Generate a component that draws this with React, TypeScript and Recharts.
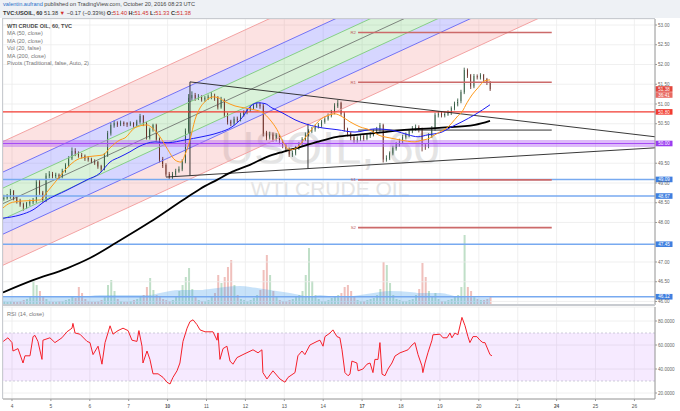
import React from 'react';
import {
  ComposedChart, Bar, Line, Area, XAxis, YAxis, CartesianGrid,
  ReferenceLine, ReferenceArea,
} from 'recharts';

const FONT = '"Liberation Sans", Arial, Helvetica, sans-serif';

// time axis: hours counted from Oct 4 00:00, trading days only
const dayLabels = ['4', '5', '6', '7', '10', '11', '12', '13', '14', '17', '18', '19', '20', '21', '24', '25', '26'];
const weekStarts = ['10', '17', '24'];
const dayTicks = dayLabels.map((_, i) => i * 24);
const X0 = -5.55;
const X1 = 396.7;

// 2-hour candles, first one at hour -5
const firstOpen = 48.6;
const closes = [
  48.62, 48.65, 48.78, 48.62, 48.55, 48.45, 48.38, 48.48, 48.52, 48.55,
  49.02, 48.75, 48.56, 49.18, 49.22, 49.18, 49.20, 49.16, 49.30, 49.45,
  49.62, 49.80, 49.75, 49.70, 49.68, 49.62, 49.60, 49.55, 49.52, 49.42,
  49.35, 49.70, 50.25, 50.45, 50.50, 50.48, 50.52, 50.50, 50.48, 50.50,
  50.45, 50.55, 50.68, 50.50, 50.15, 50.35, 50.45, 50.10, 49.60, 49.45,
  49.22, 49.15, 49.22, 49.30, 49.35, 49.55, 50.30, 51.15, 51.22, 51.15,
  51.18, 51.12, 51.15, 51.18, 51.20, 51.15, 50.92, 51.10, 50.72, 50.55,
  50.50, 50.62, 50.60, 50.72, 50.78, 50.85, 50.90, 50.95, 50.98, 50.95,
  50.25, 50.15, 50.22, 50.10, 50.20, 50.05, 49.95, 49.85, 49.72, 49.75,
  49.88, 49.98, 50.10, 50.22, 50.30, 50.35, 50.42, 50.45, 50.55, 50.62,
  50.70, 50.78, 50.95, 51.02, 50.75, 50.35, 50.25, 50.15, 50.08, 50.12,
  50.18, 50.12, 50.20, 50.22, 50.30, 50.35, 50.45, 49.60, 49.62, 49.75,
  49.88, 49.98, 50.05, 50.15, 50.22, 50.30, 50.38, 50.40, 50.35, 49.95,
  49.92, 50.20, 50.38, 50.72, 50.75, 50.72, 50.74, 50.78, 50.88, 51.00,
  51.08, 51.30, 51.85, 51.72, 51.45, 51.70, 51.68, 51.72, 51.62, 51.55,
  51.38,
];
const highs = [
  48.70, 48.72, 48.85, 48.82, 48.66, 48.60, 48.50, 48.52, 48.58, 48.62,
  49.10, 49.08, 48.80, 49.25, 49.30, 49.28, 49.26, 49.24, 49.36, 49.50,
  49.68, 49.90, 49.88, 49.80, 49.76, 49.72, 49.68, 49.64, 49.60, 49.56,
  49.46, 49.76, 50.32, 50.52, 50.58, 50.56, 50.58, 50.56, 50.54, 50.56,
  50.54, 50.60, 50.75, 50.72, 50.55, 50.40, 50.50, 50.50, 50.15, 49.66,
  49.50, 49.28, 49.28, 49.36, 49.42, 49.60, 50.38, 51.25, 51.32, 51.28,
  51.25, 51.22, 51.20, 51.24, 51.30, 51.26, 51.20, 51.18, 51.14, 50.78,
  50.60, 50.68, 50.68, 50.78, 50.84, 50.90, 50.96, 51.02, 51.05, 51.04,
  51.00, 50.32, 50.30, 50.28, 50.26, 50.24, 50.10, 50.00, 49.90, 49.82,
  49.94, 50.04, 50.16, 50.28, 50.36, 50.42, 50.48, 50.52, 50.60, 50.68,
  50.76, 50.85, 51.02, 51.10, 51.06, 50.80, 50.40, 50.30, 50.20, 50.18,
  50.24, 50.22, 50.26, 50.28, 50.36, 50.42, 50.52, 50.50, 49.70, 49.80,
  49.94, 50.04, 50.12, 50.22, 50.28, 50.36, 50.44, 50.48, 50.46, 50.40,
  50.00, 50.26, 50.44, 50.78, 50.82, 50.80, 50.80, 50.84, 50.94, 51.06,
  51.14, 51.36, 51.92, 51.90, 51.76, 51.76, 51.75, 51.78, 51.76, 51.66,
  51.58,
];
const lows = [
  48.55, 48.58, 48.60, 48.56, 48.48, 48.40, 48.30, 48.34, 48.42, 48.46,
  48.50, 48.70, 48.50, 48.52, 49.12, 49.12, 49.12, 49.10, 49.12, 49.26,
  49.40, 49.58, 49.68, 49.64, 49.62, 49.56, 49.54, 49.50, 49.46, 49.36,
  49.28, 49.32, 49.66, 50.20, 50.40, 50.42, 50.44, 50.44, 50.42, 50.44,
  50.40, 50.42, 50.50, 50.44, 50.10, 50.10, 50.30, 50.05, 49.52, 49.38,
  49.16, 49.10, 49.10, 49.18, 49.26, 49.30, 49.50, 50.25, 51.08, 51.08,
  51.10, 51.06, 51.06, 51.10, 51.12, 51.08, 50.86, 50.88, 50.66, 50.48,
  50.44, 50.46, 50.54, 50.56, 50.68, 50.74, 50.80, 50.86, 50.90, 50.88,
  50.18, 50.08, 50.10, 50.04, 50.05, 49.98, 49.88, 49.78, 49.66, 49.66,
  49.70, 49.84, 49.94, 50.06, 50.18, 50.26, 50.30, 50.38, 50.40, 50.50,
  50.58, 50.66, 50.74, 50.90, 50.70, 50.30, 50.18, 50.08, 50.02, 50.02,
  50.06, 50.06, 50.08, 50.14, 50.18, 50.26, 50.30, 49.52, 49.54, 49.58,
  49.70, 49.82, 49.92, 50.00, 50.10, 50.16, 50.26, 50.32, 50.28, 49.80,
  49.84, 49.88, 50.14, 50.32, 50.66, 50.66, 50.66, 50.70, 50.72, 50.84,
  50.94, 51.02, 51.25, 51.66, 51.38, 51.40, 51.62, 51.62, 51.56, 51.48,
  51.33,
];
// volume, hundreds of contracts
const volumes = [
  4, 3, 4, 3, 3, 4, 5, 6, 8, 25,
  20, 14, 8, 6, 4, 3, 3, 4, 4, 5,
  6, 8, 7, 18, 12, 6, 4, 3, 3, 4,
  5, 8, 20, 25, 14, 6, 4, 3, 3, 4,
  5, 6, 8, 10, 18, 27, 15, 10, 8, 6,
  5, 4, 5, 8, 14, 20, 28, 37, 16, 8,
  5, 4, 4, 5, 8, 12, 30, 22, 28, 38,
  45, 20, 10, 6, 5, 4, 5, 7, 10, 15,
  35, 50, 30, 14, 8, 5, 4, 4, 5, 6,
  8, 10, 14, 30, 57, 24, 10, 6, 4, 4,
  5, 7, 9, 10, 12, 18, 20, 14, 8, 5,
  4, 4, 5, 6, 7, 10, 16, 43, 40, 22,
  10, 6, 5, 4, 4, 5, 6, 10, 16, 42,
  28, 14, 8, 12, 6, 4, 4, 5, 6, 8,
  10, 18, 70, 18, 14, 8, 6, 5, 5, 6,
  8,
];
const volMaHours = [-5.55, 29.6, 41.9, 54.3, 85.1, 91.3, 103.6, 116, 122.1, 140.7, 146.8, 159.2, 171.5, 177.7, 183.8, 190, 202.3, 214.7, 227, 233.2, 245.5, 251.7, 264, 276.4, 294.9];
const volMaValues = [7.5, 8, 8, 10, 10, 12, 15, 15, 16, 19, 18, 15, 12, 10, 8, 10, 7.5, 10, 13, 14, 13, 12, 12, 8, 7];

// moving averages
const ma20Hours = [-5.55, -1.23, 4.94, 17.27, 21.6, 27.76, 33.9, 40.1, 46.3, 52.4, 56.1, 60.5, 66.6, 69.7, 75.9, 83.3, 86.4, 91.3, 96.2, 100.6, 104.3, 106.7, 109.8, 112.9, 116, 119.1, 124, 127.1, 131.4, 137.6, 143.7, 149.9, 154.8, 159.2, 163.5, 167.2, 171.5, 175.8, 180.8, 185.7, 190, 194.3, 199.3, 203.6, 208.5, 214.7, 220.9, 225.8, 233.2, 239.4, 248.6, 251.7, 257.9, 260.9, 264, 269, 271.4, 275.1, 277.6, 280.7, 283.8, 287.5, 291.8, 294.9];
const ma20Values = [48.37, 48.49, 48.54, 48.57, 48.77, 49.08, 49.38, 49.59, 49.66, 49.69, 49.71, 49.89, 50.09, 50.14, 50.40, 50.47, 50.40, 50.17, 49.84, 49.58, 49.53, 49.71, 50.09, 50.60, 50.90, 51.06, 51.18, 51.16, 51.06, 50.95, 50.90, 50.85, 50.78, 50.60, 50.35, 50.04, 49.84, 49.89, 50.14, 50.40, 50.60, 50.70, 50.75, 50.68, 50.55, 50.42, 50.34, 50.22, 50.14, 50.09, 50.04, 50.07, 50.14, 50.22, 50.29, 50.42, 50.52, 50.70, 50.80, 51.03, 51.23, 51.41, 51.59, 51.61];
const ma50Hours = [-5.55, 4.94, 12.95, 20.36, 33.93, 46.27, 54.29, 60.46, 66.63, 72.8, 77.73, 88.22, 96.24, 106.7, 117.2, 127.1, 135.7, 141.9, 146.8, 151.8, 156.1, 160.4, 166.6, 174.6, 188.2, 200.5, 211.6, 223.9, 236.3, 244.3, 250.5, 256.6, 265.3, 270.2, 277.6, 285.6, 294.9];
const ma50Values = [48.11, 48.19, 48.32, 48.54, 48.82, 49.08, 49.25, 49.53, 49.66, 49.79, 49.91, 50.04, 50.02, 50.09, 50.17, 50.27, 50.42, 50.65, 50.93, 51.03, 51.01, 50.90, 50.78, 50.60, 50.42, 50.35, 50.29, 50.37, 50.32, 50.22, 50.17, 50.22, 50.29, 50.40, 50.55, 50.73, 50.98];
const ma200Hours = [-5.55, 12.95, 33.93, 48.12, 64.77, 85.13, 105.5, 116, 126.5, 135.7, 146.8, 157.3, 167.2, 177.7, 188.2, 200.5, 212.8, 225.2, 244.3, 265.3, 285.6, 294.9];
const ma200Values = [46.23, 46.54, 46.84, 47.10, 47.50, 48.01, 48.57, 48.85, 49.08, 49.28, 49.46, 49.66, 49.79, 49.91, 50.04, 50.17, 50.22, 50.27, 50.35, 50.40, 50.47, 50.57];

// RSI (14)
const rsiHours = [-5.4, -2.5, 0, 0.6, 3.7, 6.8, 8, 11.1, 13, 14.2, 16, 18.5, 19.1, 23.4, 26.5, 30.8, 33.9, 37, 37.6, 38.9, 41.9, 46.3, 48.1, 50, 53.1, 55.5, 57.4, 59.2, 60.5, 62.3, 65.4, 68.5, 71.6, 74, 77.1, 78.3, 80.2, 80.8, 83.3, 85.1, 87, 90.1, 93.2, 95.6, 97.5, 99.3, 101.8, 103.6, 105.5, 108, 109.8, 111.7, 114.1, 116, 119.1, 124, 126.5, 127.1, 128.3, 130.2, 132.6, 134.5, 136.3, 138.8, 142.5, 148.7, 151.8, 154.2, 154.8, 157.3, 161, 165.3, 168.4, 170.3, 174.6, 176.4, 178.9, 180.7, 183.8, 188.2, 190, 191.9, 193.1, 196.2, 198, 200.5, 202.3, 203.6, 205.4, 207.3, 208.5, 209.7, 212.8, 213.5, 216.5, 219, 220.9, 222.7, 223.9, 225.8, 227, 228.3, 230.1, 232, 234.4, 236.3, 239.4, 242.4, 244.3, 246.8, 248.6, 250.5, 252.9, 253.5, 254.8, 256.6, 259.1, 259.7, 264, 265.9, 268.4, 270.2, 271.4, 273.3, 275.1, 277.6, 279.5, 281.3, 282.5, 284.4, 286.8, 288.7, 290.5, 291.8, 294.9, 296.1];
const rsiValues = [63, 66, 62, 55, 57, 45, 51, 51, 67, 68, 63, 48, 64, 66, 62, 66, 71, 74, 78, 70, 69, 63, 62, 52, 59, 44, 62, 70, 76, 69, 72, 74, 72, 64, 63, 72, 59, 45, 55, 48, 36, 36, 33, 29, 27.5, 33, 38.5, 45, 63, 74, 79.5, 81, 77, 72.6, 71, 71, 64, 70, 48, 57, 59, 46.6, 44, 49.5, 52, 56, 53.5, 56, 37, 31.7, 38.5, 31.7, 29, 33, 37, 51, 55, 52, 60, 63, 64, 59, 67, 70, 72.6, 67, 66, 56, 37, 34.4, 35.7, 46.6, 45, 38.5, 40, 44, 45, 37, 48, 48, 62, 35.7, 34.4, 40, 45, 50.8, 53.5, 55, 56, 60, 62, 52, 42.6, 37, 45, 53.5, 64, 68.5, 69, 66, 66, 70, 66, 70, 68.5, 83, 76, 67, 62, 67, 67, 64, 62, 62, 52, 51];

// drawings: rising channel (price of its top line at both chart edges, levels below it)
const chanHours = [X0, X1];
const chanTop = [50.05, 57.66];
const chanLevels = [0, 0.772, 1.178, 1.571, 1.964, 2.345, 3.132];
const chanLineColors = ['#f3a3a3', '#7272f5', '#86cf86', '#555555', '#86cf86', '#7272f5', '#f3a3a3'];
const chanBandColors = ['rgba(242,110,110,0.2)', 'rgba(90,90,255,0.25)', 'rgba(70,190,70,0.2)', 'rgba(70,190,70,0.2)', 'rgba(90,90,255,0.25)', 'rgba(242,110,110,0.2)'];

// triangle: upper and lower trend lines plus two verticals
const trendUpper = [{ h: 109.8, p: 51.56 }, { h: 396.7, p: 50.17 }];
const trendLower = [{ h: 95, p: 49.15 }, { h: 396.7, p: 49.89 }];
const verticals = [
  [{ h: 109.8, p: 51.56 }, { h: 109.8, p: 49.19 }],
  [{ h: 182.6, p: 50.5 }, { h: 182.6, p: 49.37 }],
];

// horizontal levels
const redLevel = 50.8;
const purpleLevel = 50.0;
const blueLevels = [49.09, 48.67, 47.45, 46.12];

// weekly pivots
const pivotHours = [213.5, 333];
const pivotNames = ['R2', 'R1', 'P', 'S1', 'S2'];
const pivotPrices = [52.81, 51.55, 50.34, 49.08, 47.87];

const lastPrice = 51.38;
const countdown = '36:41';

const PRICE_DOMAIN = [45.911, 53.152];
// 47.50 and 50.00 sit under the level tags
const priceTicks = [46, 46.5, 47, 48, 48.5, 49, 49.5, 50.5, 51, 51.5, 52, 52.5, 53];
const VOL_DOMAIN = [0, 286];

const UP_FILL = '#5b9a73';
const UP_EDGE = '#1f4a30';
const DN_FILL = '#c65545';
const DN_EDGE = '#5a1a12';

const candleData = closes.map((c, i) => {
  const open = i === 0 ? firstOpen : closes[i - 1];
  return {
    h: -5 + 2 * i,
    open,
    close: c,
    high: highs[i],
    low: lows[i],
    range: [lows[i], highs[i]],
    volRange: [0, volumes[i]],
  };
});

const Candle = (props: any) => {
  const { x, y, width, height, payload } = props;
  if (!payload || !isFinite(y) || !isFinite(height)) return null;
  const { open, close, high, low } = payload;
  const k = height / (high - low || 1);
  const cx = x + width / 2;
  const yO = y + (high - open) * k;
  const yC = y + (high - close) * k;
  const up = close >= open;
  const top = Math.min(yO, yC);
  const bh = Math.max(Math.abs(yC - yO), 0.8);
  return (
    <g>
      <line x1={cx} x2={cx} y1={y} y2={y + height} stroke={up ? UP_EDGE : DN_EDGE} strokeWidth={0.8} />
      <rect x={x} y={top} width={width} height={bh} fill={up ? UP_FILL : DN_FILL} stroke={up ? UP_EDGE : DN_EDGE} strokeWidth={0.5} />
    </g>
  );
};

const VolBar = (props: any) => {
  const { x, y, width, height, payload } = props;
  if (!payload || !isFinite(y) || !isFinite(height)) return null;
  const up = payload.close >= payload.open;
  return <rect x={x} y={Math.min(y, y + height)} width={width} height={Math.abs(height)} fill={up ? 'rgba(90,170,110,0.38)' : 'rgba(215,90,80,0.38)'} />;
};

const Tag = ({ viewBox, text, bg, dy = 0, color = '#fff' }: any) => {
  if (!viewBox) return null;
  const x = viewBox.x + viewBox.width + 0.5;
  const y = viewBox.y + dy;
  return (
    <g>
      <rect x={x} y={y - 2.8} width={17} height={5.6} fill={bg} />
      <text x={x + 8.5} y={y + 1.7} textAnchor="middle" fontSize={4.6} fill={color} fontFamily={FONT}>{text}</text>
    </g>
  );
};

const PivotLabel = ({ viewBox, text }: any) => {
  if (!viewBox) return null;
  return (
    <text x={viewBox.x - 2} y={viewBox.y + 1.6} textAnchor="end" fontSize={4.4} fill="#c06060" fontFamily={FONT}>{text}</text>
  );
};

const TimeTick = ({ x, y, payload }: any) => {
  const label = dayLabels[Math.round(payload.value / 24)];
  const bold = weekStarts.includes(label);
  return (
    <text x={x} y={y + 5} textAnchor="middle" fontSize={4.8} fill="#555" fontWeight={bold ? 'bold' : 'normal'} fontFamily={FONT}>{label}</text>
  );
};

const series = (hours: number[], values: number[]) => hours.map((h, i) => ({ h, v: values[i] }));

const legendRows = ['MA (50, close)', 'MA (20, close)', 'Vol (20, false)', 'MA (200, close)', 'Pivots (Traditional, false, Auto, 2)'];

const textStyle: React.CSSProperties = { position: 'absolute', whiteSpace: 'nowrap', fontFamily: FONT, lineHeight: 1 };
const MAIN_MARGIN = { top: 19, right: 0, left: 3, bottom: 1 };

export default function App() {
  const chanBand = (i: number) => [
    { h: chanHours[0], v: [chanTop[0] - chanLevels[i + 1], chanTop[0] - chanLevels[i]] },
    { h: chanHours[1], v: [chanTop[1] - chanLevels[i + 1], chanTop[1] - chanLevels[i]] },
  ];
  return (
    <div style={{ position: 'absolute', left: 0, top: 0, width: 680, height: 411, background: '#fff', overflow: 'hidden', fontFamily: FONT }}>
      {/* header */}
      <div style={{ position: 'absolute', left: 0, top: 0, width: 680, height: 18, background: '#eef1f5' }} />
      <div style={{ ...textStyle, left: 3, top: 2, fontSize: 5.6, color: '#444' }}>
        <span style={{ color: '#2a6fc9' }}>valentin.aufrand</span> published on TradingView.com, October 20, 2016 08:23 UTC
      </div>
      <div style={{ ...textStyle, left: 3, top: 10.5, fontSize: 5.6, color: '#333' }}>
        <b>TVC:USOIL, 60</b> 51.38 <span style={{ color: '#d2302c' }}>▼</span> −0.17 (−0.33%) <b>O:</b><span style={{ color: '#d2302c' }}>51.40</span> <b>H:</b><span style={{ color: '#d2302c' }}>51.45</span> <b>L:</b><span style={{ color: '#d2302c' }}>51.33</span> <b>C:</b><span style={{ color: '#d2302c' }}>51.38</span>
      </div>

      {/* watermark */}
      <div style={{ ...textStyle, left: 330, top: 124, transform: 'translateX(-50%)', fontSize: 47, color: '#e4e4e4' }}>USOIL, 60</div>
      <div style={{ ...textStyle, left: 330, top: 178, transform: 'translateX(-50%)', fontSize: 21, color: '#e4e4e4' }}>WTI CRUDE OIL</div>

      {/* volume bars, same plot box as the price pane */}
      <div style={{ position: 'absolute', left: 0, top: 0 }}>
        <ComposedChart width={680} height={306} data={candleData} margin={{ top: 19, right: 25, left: 3, bottom: 1 }}>
          <XAxis dataKey="h" type="number" domain={[X0, X1]} ticks={dayTicks} allowDataOverflow hide />
          <YAxis domain={VOL_DOMAIN} ticks={[0, 100, 200]} allowDataOverflow hide />
          <Bar dataKey="volRange" barSize={2} shape={<VolBar />} isAnimationActive={false} />
        </ComposedChart>
      </div>

      {/* main price pane */}
      <div style={{ position: 'absolute', left: 0, top: 0 }}>
        <ComposedChart width={680} height={306} data={candleData} margin={MAIN_MARGIN}>
          <CartesianGrid stroke="#ececec" strokeWidth={0.8} />
          <XAxis dataKey="h" type="number" domain={[X0, X1]} ticks={dayTicks} allowDataOverflow hide />
          <YAxis
            orientation="right"
            width={25}
            domain={PRICE_DOMAIN}
            ticks={priceTicks}
            allowDataOverflow
            interval={0}
            tickFormatter={(v: number) => v.toFixed(2)}
            tick={{ fontSize: 4.6, fill: '#666', fontFamily: FONT }}
            tickSize={2}
            tickMargin={1}
            axisLine={{ stroke: '#9a9a9a' }}
            tickLine={{ stroke: '#9a9a9a' }}
          />
          <YAxis yAxisId="vol" domain={VOL_DOMAIN} hide />

          {chanBandColors.map((c, i) => (
            <Area key={'band' + i} data={chanBand(i)} dataKey="v" type="linear" fill={c} fillOpacity={1} stroke="none" isAnimationActive={false} />
          ))}
          {chanLevels.map((lv, i) => (
            <ReferenceLine
              key={'cl' + i}
              segment={[{ x: chanHours[0], y: chanTop[0] - lv }, { x: chanHours[1], y: chanTop[1] - lv }]}
              stroke={chanLineColors[i]}
              strokeWidth={i === 3 ? 0.7 : 1}
              ifOverflow="hidden"
            />
          ))}
          <Area yAxisId="vol" data={series(volMaHours, volMaValues)} dataKey="v" type="monotone" fill="rgba(70,160,235,0.5)" stroke="none" isAnimationActive={false} />

          {blueLevels.map((p) => (
            <ReferenceLine key={'b' + p} y={p} stroke="#78aaf0" strokeWidth={1.6}
              label={<Tag text={p.toFixed(2)} bg="#3f7fe0" />} />
          ))}
          <ReferenceLine y={purpleLevel} stroke="#b467f5" strokeOpacity={0.45} strokeWidth={7}
            label={<Tag text={purpleLevel.toFixed(2)} bg="#9b3df0" />} />
          <ReferenceLine y={purpleLevel} stroke="#a64df5" strokeWidth={1.2} />
          <ReferenceLine y={redLevel} stroke="#f23a30" strokeWidth={1.3}
            label={<Tag text={redLevel.toFixed(2)} bg="#f23a30" />} />

          {pivotPrices.map((p, i) => (
            <ReferenceLine
              key={'pv' + i}
              segment={[{ x: pivotHours[0], y: p }, { x: pivotHours[1], y: p }]}
              stroke={pivotNames[i] === 'P' ? '#333' : '#cc6a6a'}
              strokeWidth={pivotNames[i] === 'P' ? 1 : 1.6}
              label={pivotNames[i] === 'P' ? undefined : <PivotLabel text={pivotNames[i]} />}
            />
          ))}

          {[trendUpper, trendLower, ...verticals].map((seg, i) => (
            <ReferenceLine key={'tr' + i} segment={seg.map((pt) => ({ x: pt.h, y: pt.p }))} stroke="#222" strokeWidth={0.9} ifOverflow="hidden" />
          ))}

          <Bar dataKey="range" barSize={2.4} shape={<Candle />} isAnimationActive={false} />

          <Line data={series(ma200Hours, ma200Values)} dataKey="v" type="monotone" stroke="#000" strokeWidth={1.8} dot={false} isAnimationActive={false} />
          <Line data={series(ma50Hours, ma50Values)} dataKey="v" type="monotone" stroke="#1c1cf5" strokeWidth={1} dot={false} isAnimationActive={false} />
          <Line data={series(ma20Hours, ma20Values)} dataKey="v" type="monotone" stroke="#ff9a1a" strokeWidth={1} dot={false} isAnimationActive={false} />

          <ReferenceLine y={lastPrice} stroke="none"
            label={<Tag text={lastPrice.toFixed(2)} bg="#e2463c" />} />
          <ReferenceLine y={lastPrice} stroke="none"
            label={<Tag text={countdown} bg="#e86a62" dy={6} />} />
        </ComposedChart>
      </div>

      {/* RSI pane */}
      <div style={{ position: 'absolute', left: 0, top: 305 }}>
        <ComposedChart width={680} height={106} data={series(rsiHours, rsiValues)} margin={{ top: 2, right: 0, left: 3, bottom: 0 }}>
          <CartesianGrid stroke="#ececec" strokeWidth={0.8} />
          <XAxis
            dataKey="h"
            type="number"
            domain={[X0, X1]}
            ticks={dayTicks}
            interval={0}
            allowDataOverflow
            height={12}
            tick={<TimeTick />}
            tickLine={{ stroke: '#9a9a9a' }}
            tickSize={2}
            axisLine={{ stroke: '#9a9a9a' }}
          />
          <YAxis
            orientation="right"
            width={25}
            domain={[15, 91.67]}
            ticks={[20, 40, 60, 80]}
            interval={0}
            allowDataOverflow
            tickFormatter={(v: number) => v.toFixed(4)}
            tick={{ fontSize: 4.6, fill: '#666', fontFamily: FONT }}
            tickSize={2}
            tickMargin={1}
            axisLine={{ stroke: '#9a9a9a' }}
            tickLine={{ stroke: '#9a9a9a' }}
          />
          <ReferenceArea y1={30} y2={70} fill="#9915ff" fillOpacity={0.09} stroke="none" />
          <ReferenceLine y={70} stroke="#b9b9c8" strokeDasharray="2 2" strokeWidth={0.7} />
          <ReferenceLine y={30} stroke="#b9b9c8" strokeDasharray="2 2" strokeWidth={0.7} />
          <Line dataKey="v" type="linear" stroke="#f5202a" strokeWidth={1} dot={false} isAnimationActive={false} />
        </ComposedChart>
      </div>

      {/* pane frames */}
      <div style={{ position: 'absolute', left: 2, top: 18, width: 653, height: 287, border: '1px solid #c8cbd0', borderRight: 'none', boxSizing: 'border-box', pointerEvents: 'none' }} />
      <div style={{ position: 'absolute', left: 2, top: 305, width: 653, height: 94, borderLeft: '1px solid #c8cbd0', borderTop: '1px solid #c8cbd0', boxSizing: 'border-box', pointerEvents: 'none' }} />

      {/* legends */}
      <div style={{ ...textStyle, left: 7, top: 23.5, fontSize: 5.5, fontWeight: 'bold', color: '#4a4a4a' }}>WTI CRUDE OIL, 60, TVC</div>
      {legendRows.map((t, i) => (
        <div key={t} style={{ ...textStyle, left: 7, top: 31 + i * 7.6, fontSize: 5.6, color: '#777' }}>{t}</div>
      ))}
      <div style={{ ...textStyle, left: 7, top: 311.5, fontSize: 5.6, color: '#777' }}>RSI (14, close)</div>
    </div>
  );
}
